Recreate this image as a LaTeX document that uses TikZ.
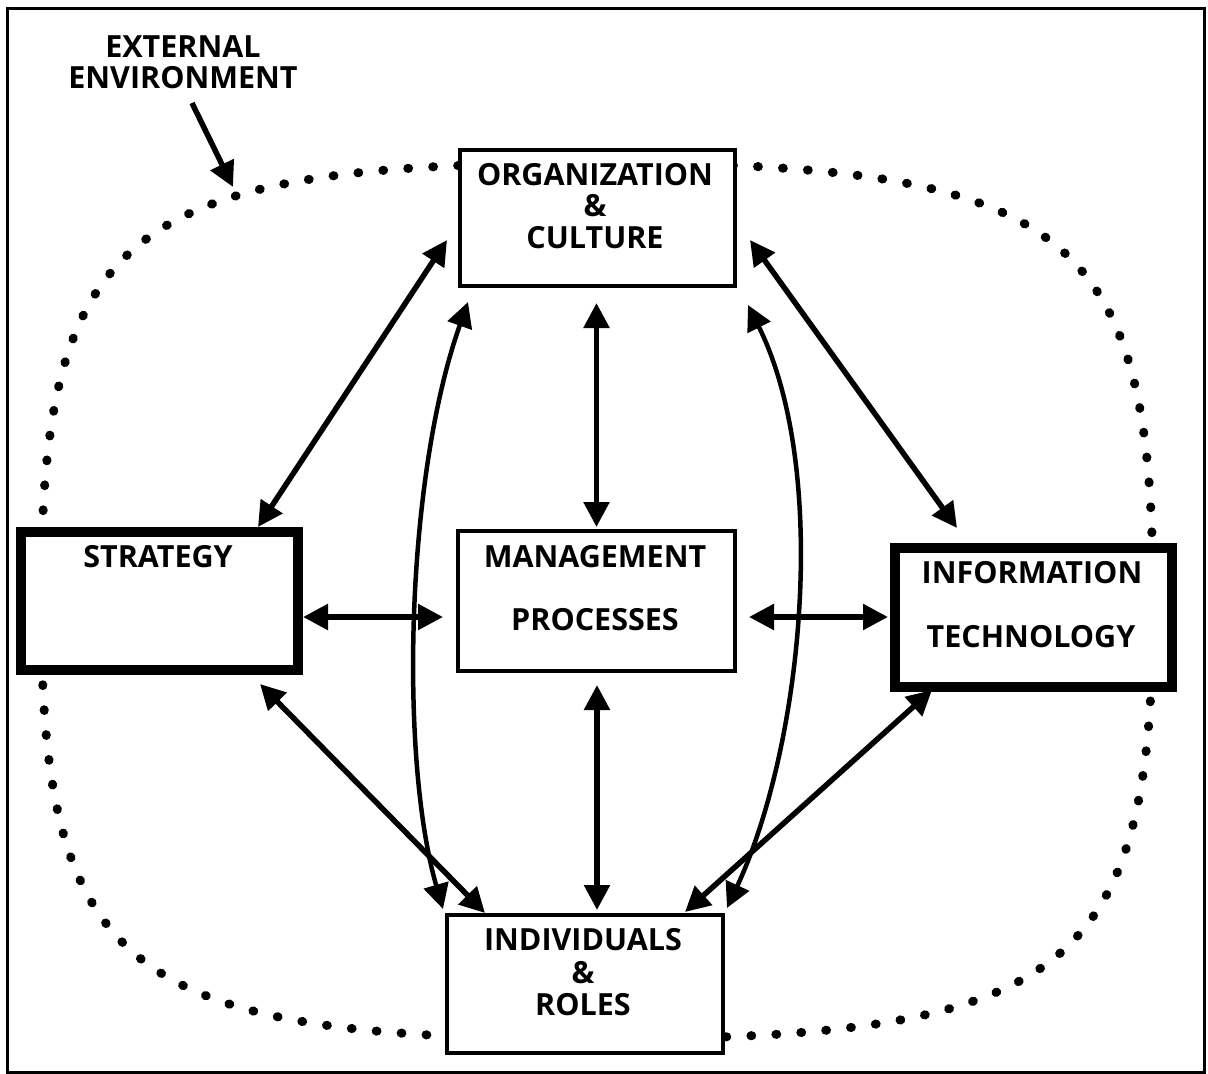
\documentclass[tikz,border=0pt]{standalone}
\usepackage{fontspec}
\setmainfont{Open Sans}
\usetikzlibrary{arrows.meta,calc}
\begin{document}
\begin{tikzpicture}[x=1pt,y=-1pt,
  >={Triangle[length=25pt,width=25pt]},
  lbl/.style={font=\fontsize{30.5}{32}\selectfont\bfseries, inner sep=0pt, anchor=base},
  box/.style={draw, fill=white, line width=4.5pt, inner sep=0pt, outer sep=0pt},
  bigbox/.style={box, line width=10pt},
  dbl/.style={<->, line width=5.5pt},
  arc/.style={<->, line width=4.5pt},
  sgl/.style={->, line width=5.5pt},
  dots/.style={line width=9pt, line cap=round, dash pattern=on 0.8pt off 24.2pt}
]
\useasboundingbox (0,0) rectangle (1208,1074);
\fill[white] (0,0) rectangle (1208,1074);

% external environment (dotted boundary)
\draw[dots] (1153,601) .. controls (1153,973) and (1070,1039) .. (597,1039)
  .. controls (124,1039) and (41,973) .. (41,601)
  .. controls (41,229) and (124,163) .. (597,163)
  .. controls (1070,163) and (1153,229) .. (1153,601);

% frame
\draw[line width=3pt] (7,8) rectangle (1204,1072);

% boxes
\node[box, minimum width=275pt, minimum height=136pt] (org) at (597.5,218) {};
\node[box, minimum width=277pt, minimum height=140pt] (mgmt) at (596.5,601) {};
\node[box, minimum width=276pt, minimum height=138pt] (ind) at (585,984) {};
\node[bigbox, minimum width=277pt, minimum height=138pt] (strat) at (159.5,601) {};
\node[bigbox, minimum width=277pt, minimum height=139pt] (it) at (1033.5,617.5) {};

% texts
\node[lbl] (ext1) at (183,57) {EXTERNAL};
\node[lbl] (ext2) at (183,88) {ENVIRONMENT};
\node[lbl] (orgA) at (595,185) {ORGANIZATION};
\node[lbl] (orgB) at (595,216) {\&};
\node[lbl] (orgC) at (595,248) {CULTURE};
\node[lbl] (stratA) at (158,567) {STRATEGY};
\node[lbl] (mgmtA) at (595,567) {MANAGEMENT};
\node[lbl] (mgmtB) at (595,630) {PROCESSES};
\node[lbl] (itA) at (1032,583) {INFORMATION};
\node[lbl] (itB) at (1031,647) {TECHNOLOGY};
\node[lbl] (indA) at (583,950) {INDIVIDUALS};
\node[lbl] (indB) at (583,983) {\&};
\node[lbl] (indC) at (583,1015) {ROLES};

% connectors
\coordinate (envpt) at (233,187);
\draw[sgl] ($(ext2.base)+(9,15)$) -- (envpt);

\draw[dbl] ($(strat.north east)+(-40,-5)$) -- ($(org.west)+(-13,22)$);
\draw[dbl] ($(org.east)+(15,22)$) -- ($(it.north west)+(62,-20)$);
\draw[dbl] ($(mgmt.north |- org.south)+(0,17)$) -- ($(mgmt.north)+(0,-4)$);
\draw[arc] ($(org.south west)+(8,16)$) .. controls +(-63,178) and +(-43,-149) .. ($(ind.north west)+(-4,-6)$);
\draw[arc] ($(org.south east)+(13,19)$) .. controls +(82,165) and +(76,-163) .. ($(ind.north east)+(4,-7)$);
\draw[dbl] ($(strat.east)+(5,16)$) -- ($(mgmt.west)+(-15,16)$);
\draw[dbl] ($(mgmt.east)+(14,16)$) -- ($(it.west)+(-7,-0.5)$);
\draw[dbl] ($(mgmt.south)+(0.5,14)$) -- ($(mgmt.south |- ind.north)+(0.5,-5)$);
\draw[dbl] ($(strat.south east)+(-38,14)$) -- ($(ind.north west)+(38,-2)$);
\draw[dbl] ($(it.south west)+(37,3)$) -- ($(ind.north east)+(-38,-3)$);
\end{tikzpicture}
\end{document}
